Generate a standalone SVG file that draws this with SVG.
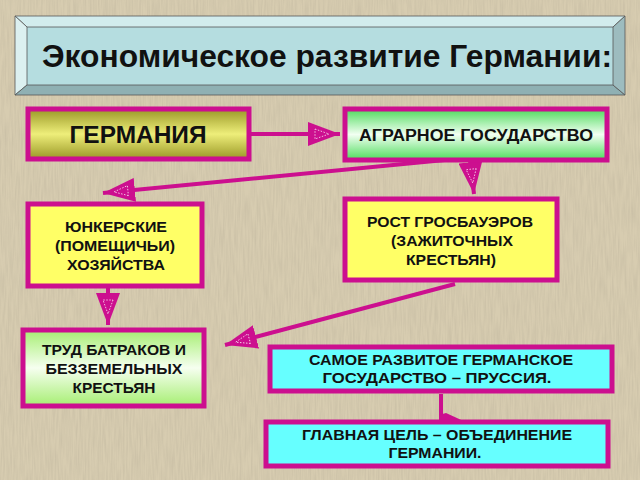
<svg xmlns="http://www.w3.org/2000/svg" width="640" height="480" viewBox="0 0 640 480">
<defs>
<style>
.box{stroke:#cc0f8f;stroke-width:5}
.t{font-family:"Liberation Sans",Arial,sans-serif;font-weight:bold;fill:#111;text-anchor:middle}
.con{stroke:#cc0f8f;stroke-width:4;fill:none}
.bev{stroke:#555;stroke-width:0.8}
</style>
<linearGradient id="gOlive" x1="0" y1="0" x2="0" y2="1">
<stop offset="0" stop-color="#9a9826"/><stop offset="0.5" stop-color="#eeee7a"/><stop offset="1" stop-color="#9a9826"/>
</linearGradient>
<linearGradient id="gGreen" x1="0" y1="0" x2="0" y2="1">
<stop offset="0" stop-color="#4edc5c"/><stop offset="0.5" stop-color="#f2fff2"/><stop offset="1" stop-color="#4edc5c"/>
</linearGradient>
<linearGradient id="gLime" x1="0" y1="0" x2="0" y2="1">
<stop offset="0" stop-color="#a6ee72"/><stop offset="0.5" stop-color="#f6fff0"/><stop offset="1" stop-color="#a6ee72"/>
</linearGradient>
<filter id="paper" x="0" y="0" width="100%" height="100%">
<feTurbulence type="fractalNoise" baseFrequency="0.6 0.04" numOctaves="2" seed="3"/>
<feColorMatrix type="matrix" values="0 0 0 0 0.45  0 0 0 0 0.4  0 0 0 0 0.3  0 0 0 -1.6 1.1"/>
</filter>
<marker id="ah" viewBox="0 0 32 24" refX="32" refY="12" markerWidth="32" markerHeight="24" markerUnits="userSpaceOnUse" orient="auto">
<path d="M0,0 L32,12 L0,24 Z" fill="#cc0f8f"/>
<path d="M7,7 L21,12 L7,17 Z" fill="none" stroke="#ffffff" stroke-width="0.9" stroke-dasharray="1.5,1.5" opacity="0.8"/>
</marker>
</defs>

<rect width="640" height="480" fill="#d7ccb0"/>
<rect width="640" height="480" filter="url(#paper)" opacity="0.35"/>

<g id="title">
<rect x="27" y="27" width="586" height="58" fill="#b5dde0"/>
<polygon class="bev" points="15,16 625,16 613,27 27,27" fill="#d2eced"/>
<polygon class="bev" points="15,16 27,27 27,85 15,95" fill="#dcf0f0"/>
<polygon class="bev" points="15,95 27,85 613,85 625,95" fill="#8fb0b3"/>
<polygon class="bev" points="625,16 625,95 613,85 613,27" fill="#9dbcbf"/>
<text class="t" x="327" y="67" font-size="31" textLength="570" lengthAdjust="spacingAndGlyphs">Экономическое развитие Германии:</text>
</g>

<g id="connectors">
<line class="con" x1="251" y1="134" x2="340" y2="134" marker-end="url(#ah)"/>
<line class="con" x1="469" y1="150" x2="474" y2="194" marker-end="url(#ah)"/>
<line class="con" x1="455" y1="159" x2="103" y2="193" marker-end="url(#ah)"/>
<line class="con" x1="108" y1="288" x2="108" y2="325" marker-end="url(#ah)"/>
<line class="con" x1="455" y1="284" x2="225" y2="345" marker-end="url(#ah)"/>
<line class="con" x1="441" y1="394" x2="441" y2="420"/>
<polygon points="439,415 446,413 470,424 439,424" fill="#cc0f8f"/>
</g>

<g id="germany">
<rect class="box" x="28" y="109" width="221" height="50" fill="url(#gOlive)"/>
<text class="t" x="138" y="143" font-size="23" textLength="137" lengthAdjust="spacingAndGlyphs">ГЕРМАНИЯ</text>
</g>

<g id="agrarian">
<rect class="box" x="345" y="109" width="262" height="51" fill="url(#gGreen)"/>
<text class="t" x="476" y="141" font-size="16" textLength="234" lengthAdjust="spacingAndGlyphs">АГРАРНОЕ ГОСУДАРСТВО</text>
</g>

<g id="junker">
<rect class="box" x="28" y="204" width="174" height="82" fill="#ffff66"/>
<text class="t" x="116" y="232" font-size="14.5" textLength="102" lengthAdjust="spacingAndGlyphs">ЮНКЕРСКИЕ</text>
<text class="t" x="115" y="251" font-size="14.5" textLength="120" lengthAdjust="spacingAndGlyphs">(ПОМЕЩИЧЬИ)</text>
<text class="t" x="116" y="270" font-size="14.5" textLength="98" lengthAdjust="spacingAndGlyphs">ХОЗЯЙСТВА</text>
</g>

<g id="grossbauer">
<rect class="box" x="345" y="199" width="212" height="81" fill="#ffff66"/>
<text class="t" x="450" y="227" font-size="15.5" textLength="166" lengthAdjust="spacingAndGlyphs">РОСТ ГРОСБАУЭРОВ</text>
<text class="t" x="452" y="246" font-size="15.5" textLength="122" lengthAdjust="spacingAndGlyphs">(ЗАЖИТОЧНЫХ</text>
<text class="t" x="451" y="265" font-size="15.5" textLength="90" lengthAdjust="spacingAndGlyphs">КРЕСТЬЯН)</text>
</g>

<g id="labor">
<rect class="box" x="23" y="330" width="181" height="76" fill="url(#gLime)"/>
<text class="t" x="114" y="355" font-size="15.5" textLength="144" lengthAdjust="spacingAndGlyphs">ТРУД БАТРАКОВ И</text>
<text class="t" x="114" y="374" font-size="15.5" textLength="137" lengthAdjust="spacingAndGlyphs">БЕЗЗЕМЕЛЬНЫХ</text>
<text class="t" x="114" y="393" font-size="15.5" textLength="83" lengthAdjust="spacingAndGlyphs">КРЕСТЬЯН</text>
</g>

<g id="prussia">
<rect class="box" x="270" y="347" width="342" height="44" fill="#66ffff"/>
<text class="t" x="441" y="365" font-size="15.5" textLength="264" lengthAdjust="spacingAndGlyphs">САМОЕ РАЗВИТОЕ ГЕРМАНСКОЕ</text>
<text class="t" x="437" y="383" font-size="15.5" textLength="229" lengthAdjust="spacingAndGlyphs">ГОСУДАРСТВО – ПРУССИЯ.</text>
</g>

<g id="goal">
<rect class="box" x="266" y="422" width="342" height="44" fill="#66ffff"/>
<text class="t" x="437" y="440" font-size="15.5" textLength="270" lengthAdjust="spacingAndGlyphs">ГЛАВНАЯ ЦЕЛЬ – ОБЪЕДИНЕНИЕ</text>
<text class="t" x="435" y="458" font-size="15.5" textLength="93" lengthAdjust="spacingAndGlyphs">ГЕРМАНИИ.</text>
</g>
</svg>
